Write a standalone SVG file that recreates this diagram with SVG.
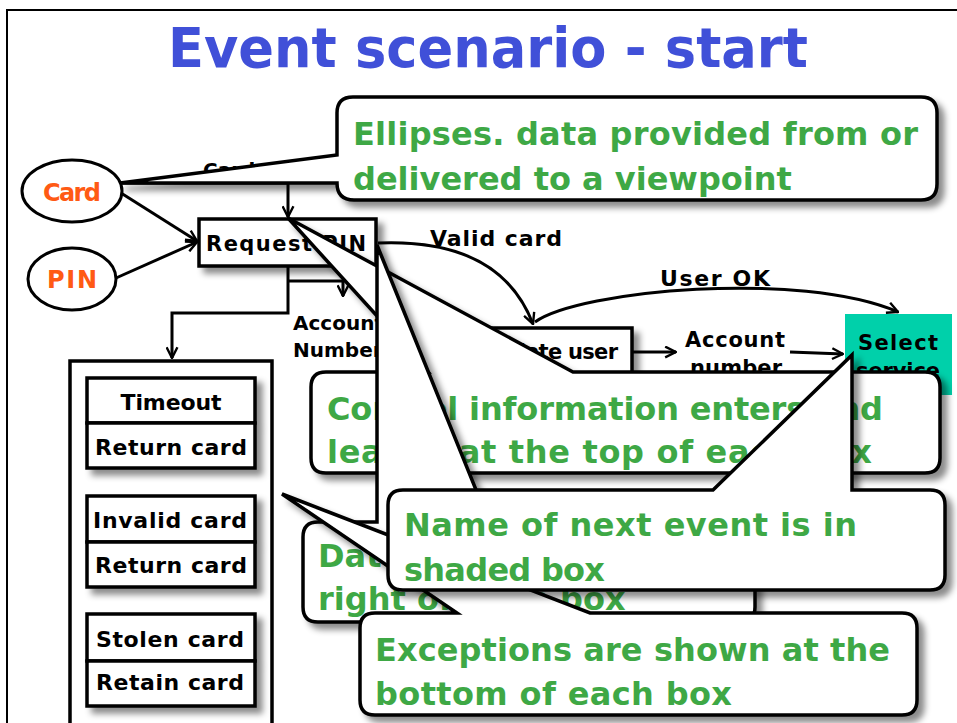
<svg xmlns="http://www.w3.org/2000/svg" width="957" height="723" viewBox="0 0 957 723">
<style>
.lbl{font-family:"DejaVu Sans","Liberation Sans",sans-serif;font-weight:bold;fill:#000;}
.src{font-family:"DejaVu Sans","Liberation Sans",sans-serif;font-weight:bold;fill:#FF5A14;}
.note{font-family:"DejaVu Sans","Liberation Sans",sans-serif;font-weight:bold;font-size:32px;fill:#3EA845;}
.box{fill:#fff;stroke:#000;stroke-width:3.5;}
.ell{fill:#fff;stroke:#000;stroke-width:3;}
.con{fill:none;stroke:#000;stroke-width:3;}
.callout{fill:#fff;stroke:#000;stroke-width:3.5;stroke-linejoin:miter;}
</style>
<defs>
<filter id="sh" x="-20%" y="-20%" width="140%" height="150%">
<feDropShadow dx="6" dy="6" stdDeviation="3" flood-color="#000" flood-opacity="0.45"/>
</filter>
<marker id="arr" viewBox="0 0 12 12" refX="11" refY="6" markerWidth="13" markerHeight="13" markerUnits="userSpaceOnUse" orient="auto">
<path d="M1,1 L11,6 L1,11" fill="none" stroke="#000" stroke-width="2.2"/>
</marker>
</defs>
<rect width="957" height="723" fill="#fff"/>
<g id="frame">
<path d="M7,723 L7,10 L957,10" fill="none" stroke="#000" stroke-width="2"/>
</g>
<g id="title">
<text x="168" y="67" font-family="DejaVu Sans, Liberation Sans, sans-serif" font-weight="bold" font-size="56" fill="#4050D8" textLength="640" lengthAdjust="spacingAndGlyphs">Event scenario - start</text>
</g>

<g id="connectors">
<path class="con" d="M122,183 L288,183 L288,217" marker-end="url(#arr)"/>
<text class="lbl" x="203" y="177" font-size="20">Card</text>
<path class="con" d="M121,193 L197,241" marker-end="url(#arr)"/>
<path class="con" d="M116,278 L197,242" marker-end="url(#arr)"/>
<path class="con" d="M288,266 L288,313 L172,313 L172,358" marker-end="url(#arr)"/>
<path class="con" d="M288,281 L343,281 L343,296" marker-end="url(#arr)"/>
<text class="lbl" x="293" y="330" font-size="20">Account</text>
<text class="lbl" x="293" y="357" font-size="20">Number</text>
<path class="con" d="M378,243 Q500,238 533,324" marker-end="url(#arr)"/>
<text class="lbl" x="430" y="246" font-size="22" textLength="132">Valid card</text>
<path class="con" d="M535,322 C580,290 800,270 898,312" marker-end="url(#arr)"/>
<text class="lbl" x="660" y="286" font-size="22" textLength="110">User OK</text>
<path class="con" d="M632,352 L676,352" marker-end="url(#arr)"/>
<text class="lbl" x="685" y="347" font-size="21" textLength="100">Account</text>
<text class="lbl" x="690" y="375" font-size="21" textLength="92">number</text>
<path class="con" d="M790,352 L843,354" marker-end="url(#arr)"/>
</g>

<g id="node-card">
<ellipse class="ell" cx="72" cy="191" rx="50" ry="31"/>
<text class="src" x="72" y="201" font-size="24" text-anchor="middle" textLength="58">Card</text>
</g>
<g id="node-pin">
<ellipse class="ell" cx="72" cy="279" rx="44" ry="31"/>
<text class="src" x="72" y="288" font-size="24" text-anchor="middle" textLength="50">PIN</text>
</g>
<g id="node-request-pin">
<rect class="box" x="199" y="219" width="177" height="47" filter="url(#sh)"/>
<text class="lbl" x="206" y="251" font-size="21" textLength="160">Request PIN</text>
</g>
<g id="node-validate-user">
<rect class="box" x="462" y="328" width="170" height="48" filter="url(#sh)"/>
<text class="lbl" x="618" y="359" font-size="21" text-anchor="end" textLength="148">Validate user</text>
</g>
<g id="node-select-service">
<rect x="845" y="314" width="107" height="81" fill="#00D0AA"/>
<text class="lbl" x="898" y="350" font-size="21" text-anchor="middle" textLength="80">Select</text>
<text class="lbl" x="898" y="378" font-size="21" text-anchor="middle" textLength="84">service</text>
</g>
<g id="node-exceptions">
<rect x="70" y="361" width="202" height="400" fill="#fff" stroke="#000" stroke-width="3.5"/>
<g filter="url(#sh)">
<rect class="box" x="87" y="378" width="168" height="45"/>
<rect class="box" x="87" y="423" width="168" height="45"/>
</g>
<text class="lbl" x="171" y="410" font-size="22" text-anchor="middle" textLength="101">Timeout</text>
<text class="lbl" x="171" y="455" font-size="22" text-anchor="middle" textLength="152">Return card</text>
<g filter="url(#sh)">
<rect class="box" x="87" y="496" width="168" height="46"/>
<rect class="box" x="87" y="542" width="168" height="45"/>
</g>
<text class="lbl" x="170" y="528" font-size="22" text-anchor="middle" textLength="154">Invalid card</text>
<text class="lbl" x="171" y="573" font-size="22" text-anchor="middle" textLength="152">Return card</text>
<g filter="url(#sh)">
<rect class="box" x="87" y="614" width="168" height="47"/>
<rect class="box" x="87" y="661" width="168" height="45"/>
</g>
<text class="lbl" x="170" y="647" font-size="22" text-anchor="middle" textLength="148">Stolen card</text>
<text class="lbl" x="170" y="690" font-size="22" text-anchor="middle" textLength="148">Retain card</text>
</g>

<g id="callout-ellipses">
<path class="callout" filter="url(#sh)" d="M353,97 L921,97 Q937,97 937,113 L937,184 Q937,200 921,200 L354,200 Q337,200 337,183 L120,183 L337,155 L337,113 Q337,97 353,97 Z"/>
<text class="note" x="353" y="145" textLength="565">Ellipses. data provided from or</text>
<text class="note" x="353" y="190">delivered to a viewpoint</text>
</g>
<g id="callout-control">
<path class="callout" filter="url(#sh)" d="M326,372 L428,372 L288,218 L573,372 L925,372 Q940,372 940,387 L940,458 Q940,473 925,473 L326,473 Q311,473 311,458 L311,387 Q311,372 326,372 Z"/>
<text class="note" x="327" y="420" textLength="556">Control information enters and</text>
<text class="note" x="327" y="463" textLength="545">leaves at the top of each box</text>
</g>
<g id="callout-data">
<path class="callout" filter="url(#sh)" d="M318,522 L377,522 L377,245 L489,522 L740,522 Q755,522 755,537 L755,607 Q755,622 740,622 L318,622 Q303,622 303,607 L303,537 Q303,522 318,522 Z"/>
<text class="note" x="318" y="567">Data leaves from the</text>
<text class="note" x="318" y="610">right of each box</text>
</g>
<g id="callout-exceptions">
<path class="callout" filter="url(#sh)" d="M375,613 L457,613 L282,494 L590,613 L902,613 Q917,613 917,628 L917,700 Q917,715 902,715 L375,715 Q360,715 360,700 L360,628 Q360,613 375,613 Z"/>
<text class="note" x="375" y="661" textLength="515">Exceptions are shown at the</text>
<text class="note" x="375" y="705" textLength="357">bottom of each box</text>
</g>
<g id="callout-name">
<path class="callout" filter="url(#sh)" d="M403,490 L713,490 L852,355 L852,490 L930,490 Q945,490 945,505 L945,575 Q945,590 930,590 L403,590 Q388,590 388,575 L388,505 Q388,490 403,490 Z"/>
<text class="note" x="404" y="536" textLength="453">Name of next event is in</text>
<text class="note" x="404" y="581" textLength="201">shaded box</text>
</g>
</svg>
